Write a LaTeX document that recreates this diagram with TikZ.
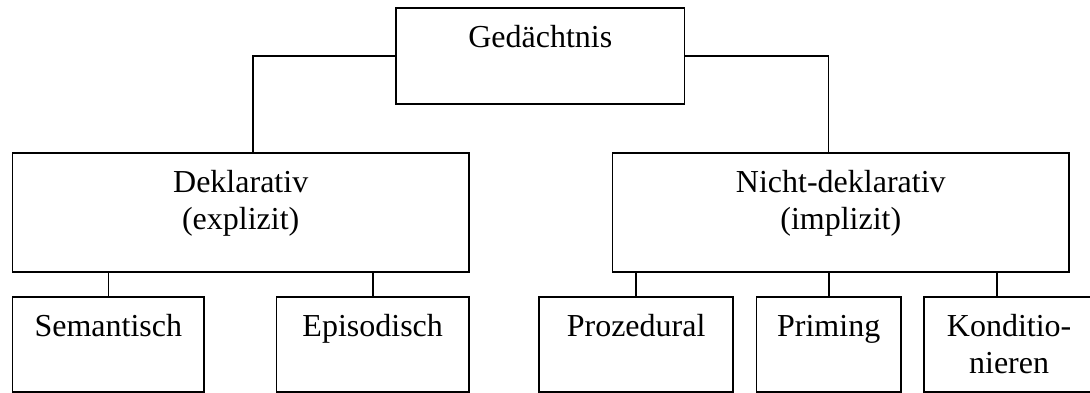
\documentclass[tikz,border=0pt]{standalone}
\usepackage{fontspec}
\setmainfont{Liberation Serif}
\usetikzlibrary{positioning}

\begin{document}
\begin{tikzpicture}[x=0.5pt,y=-0.5pt,
	kasten/.style={draw, line width=0.8pt, anchor=north west, inner sep=0pt,
		align=center, text height=20pt, font=\fontsize{16pt}{18.3pt}\selectfont},
	zweizeilig/.style={text height=38.3pt},
	oben/.style={kasten, minimum height=48pt, text depth=28pt},
	mitte/.style={kasten, zweizeilig, minimum height=59.5pt, text depth=21.2pt},
	unten/.style={kasten, minimum height=47.5pt, text depth=27.5pt},
	linie/.style={line width=0.8pt}]

	\useasboundingbox (0,0) rectangle (1090,392);

	% oberste Ebene
	\node[oben, minimum width=144.2pt] (ged) at (395.3,7) {Gedächtnis};

	% zweite Ebene
	\node[mitte, minimum width=228.2pt] (dekl) at (11.7,152) {Deklarativ\\(explizit)};
	\node[mitte, minimum width=228.3pt] (nicht) at (611.7,152) {Nicht-deklarativ\\(implizit)};

	% dritte Ebene
	\node[unten, minimum width=95.8pt] (sem) at (11.7,296) {Semantisch};
	\node[unten, minimum width=96.2pt] (epi) at (275.7,296) {Episodisch};
	\node[unten, minimum width=97pt] (proz) at (538.3,296) {Prozedural};
	\node[unten, minimum width=72.2pt] (prim) at (755.7,296) {Priming};
	\node[unten, zweizeilig, minimum width=85pt, text depth=9.2pt] (kond) at (923.3,296) {Konditio-\\nieren};

	\draw[linie] (ged.west) -| ([xshift=6pt]dekl.north);
	\draw[linie] (ged.east) -| ([xshift=-6.2pt]nicht.north);

	\draw[linie] (sem.north) -- (sem.north |- dekl.south);
	\draw[linie] (epi.north) -- (epi.north |- dekl.south);
	\draw[linie] (proz.north) -- (proz.north |- nicht.south);
	\draw[linie] (prim.north) -- (prim.north |- nicht.south);
	\draw[linie] ([xshift=-6pt]kond.north) -- ([xshift=-6pt]kond.north |- nicht.south);
\end{tikzpicture}
\end{document}
